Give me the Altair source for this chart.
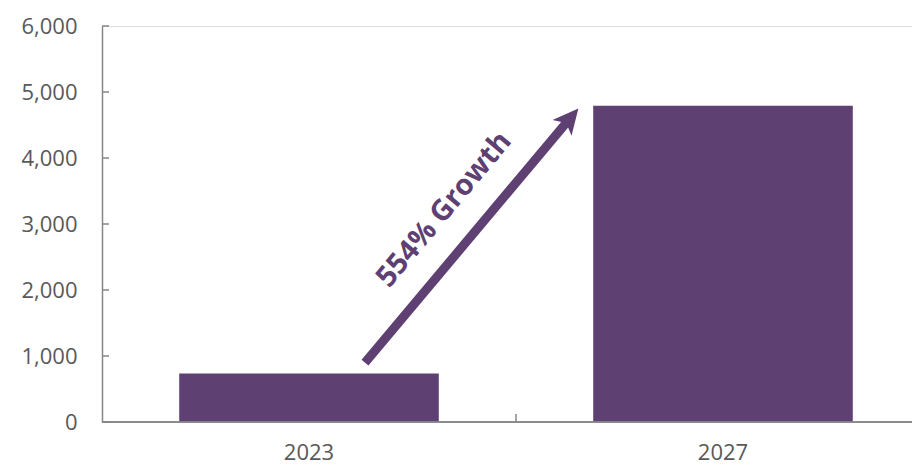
import altair as alt
import pandas as pd

# ---- data ----
years = ["2023", "2027"]
values = [735, 4790]
y_ticks = [0, 1000, 2000, 3000, 4000, 5000, 6000]
growth_label = "554% Growth"
arrow_from = 900     # y value where the arrow starts (above 2023 bar)
arrow_to = 4600      # y value at the arrow head centre
label_at = 3220      # y value at the centre of the growth label

PURPLE = "#5E4073"
GREY_TXT = "#595959"
GREY_LINE = "#868686"
FONT = "Open Sans"
W, H = 810, 396

bars_df = pd.DataFrame({"year": years, "value": values})
ticks_df = pd.DataFrame({"v": y_ticks})
xt_df = pd.DataFrame({"year": years[1:]})

xscale = alt.Scale(domain=years, paddingInner=0, paddingOuter=0, range=[0, 828])
yscale = alt.Scale(domain=[0, 6000], nice=False)

bars = alt.Chart(bars_df).mark_bar(
    color=PURPLE, width=alt.RelativeBandSize(0.627)
).encode(
    x=alt.X("year:N", scale=xscale, sort=years, title=None,
            axis=alt.Axis(domain=False, ticks=False, labelAngle=0, labelPadding=20,
                          labelFontSize=22, labelColor=GREY_TXT, labelFont=FONT)),
    y=alt.Y("value:Q", scale=yscale, title=None,
            axis=alt.Axis(values=y_ticks, format=",.0f", ticks=False, grid=False,
                          domainColor=GREY_LINE, domainWidth=1.5, labelPadding=25,
                          labelFontSize=22, labelColor=GREY_TXT, labelFont=FONT)),
)

baseline = alt.Chart(bars_df).mark_rule(color=GREY_LINE, strokeWidth=1.5).encode(
    y=alt.datum(0, scale=yscale)
)

yticks = alt.Chart(ticks_df).mark_rule(color=GREY_LINE, strokeWidth=1.5).encode(
    y=alt.Y("v:Q", scale=yscale),
    x=alt.value(0),
    x2=alt.value(7),
)

xticks = alt.Chart(xt_df).mark_rule(color=GREY_LINE, strokeWidth=1.5).encode(
    x=alt.X("year:N", scale=xscale, sort=years, bandPosition=0),
    y=alt.value(H - 8),
    y2=alt.value(H),
)

arrow = alt.Chart(bars_df.head(1)).mark_rule(
    color=PURPLE, strokeWidth=9, xOffset=56, x2Offset=-153
).encode(
    x=alt.datum(years[0], scale=xscale),
    x2=alt.datum(years[1]),
    y=alt.datum(arrow_from, scale=yscale),
    y2=alt.datum(arrow_to),
)

head = alt.Chart(bars_df.head(1)).mark_point(
    shape="M0,-1 L0.95,0.95 L0,0.45 L-0.95,0.95 Z",
    filled=True, opacity=1, color=PURPLE, size=680, angle=40, xOffset=-153
).encode(
    x=alt.datum(years[1], scale=xscale),
    y=alt.datum(arrow_to, scale=yscale),
)

label = alt.Chart(bars_df.head(1)).mark_text(
    text=growth_label, font=FONT, fontSize=29, fontWeight="bold", color=PURPLE,
    angle=310, align="center", baseline="middle", xOffset=135
).encode(
    x=alt.datum(years[0], scale=xscale),
    y=alt.datum(label_at, scale=yscale),
)

chart = alt.layer(bars, baseline, yticks, xticks, arrow, head, label).properties(
    width=W, height=H,
    autosize=alt.AutoSizeParams(type="none"),
    padding={"left": 102, "top": 26, "right": 0, "bottom": 43},
).configure_view(stroke=None).configure(background="white")

chart.save("out.html", embed_options={"renderer": "svg", "actions": False})
